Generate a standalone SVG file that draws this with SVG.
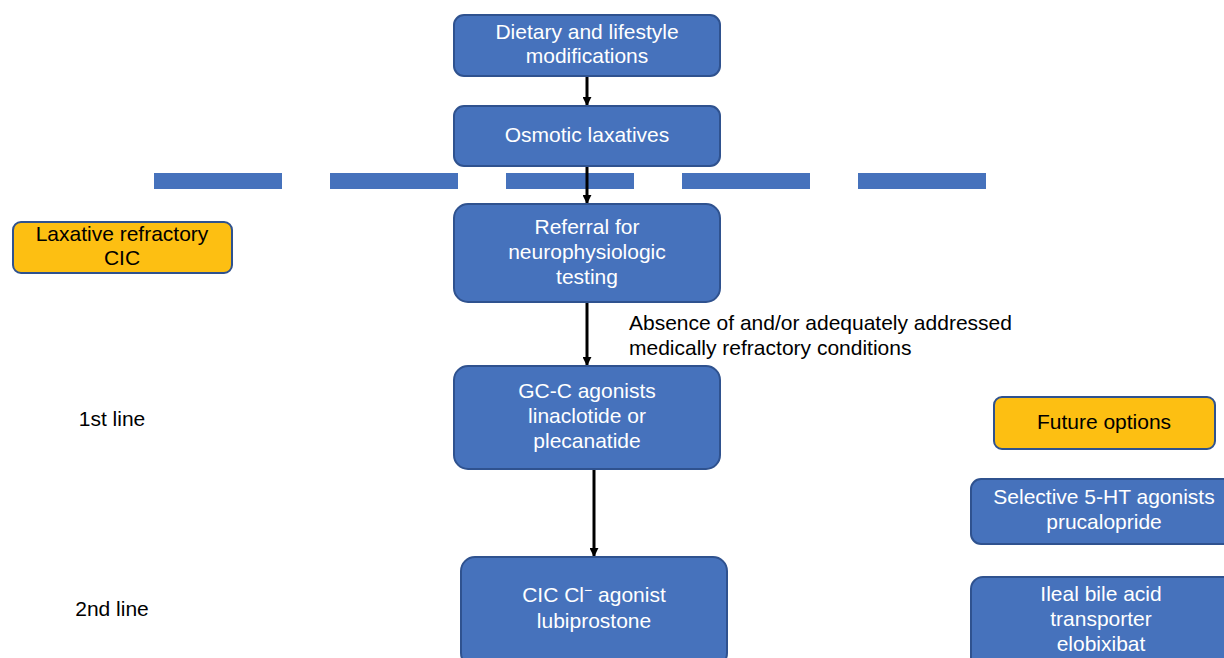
<svg xmlns="http://www.w3.org/2000/svg" width="1224" height="658" viewBox="0 0 1224 658">
<style>
.b{fill:#4672BC;stroke:#2F528F;stroke-width:2}
.y{fill:#FDBF12;stroke:#2F528F;stroke-width:2}
.t{font-family:"Liberation Sans",Arial,sans-serif;font-size:21px;text-anchor:middle}
.w{fill:#fff}
.k{fill:#000}
.c{stroke:#000;stroke-width:3;fill:none;marker-end:url(#a)}
</style>
<defs>
<marker id="a" viewBox="0 0 10 10" refX="9" refY="5" markerWidth="3" markerHeight="3" orient="auto" markerUnits="strokeWidth">
<path d="M0,0 L10,5 L0,10 z" fill="#000"/>
</marker>
</defs>
<g id="divider" fill="#4672BC">
<rect x="154" y="173" width="128" height="16"/>
<rect x="330" y="173" width="128" height="16"/>
<rect x="506" y="173" width="128" height="16"/>
<rect x="682" y="173" width="128" height="16"/>
<rect x="858" y="173" width="128" height="16"/>
</g>
<g id="connectors">
<line class="c" x1="587" y1="76" x2="587" y2="105"/>
<line class="c" x1="587" y1="166" x2="587" y2="203"/>
<line class="c" x1="587" y1="302" x2="587" y2="365"/>
<line class="c" x1="594" y1="469" x2="594" y2="556"/>
</g>
<g id="dietary"><rect class="b" x="454" y="15" width="266" height="61" rx="10"/>
<text class="t w" x="587" y="39">Dietary and lifestyle</text><text class="t w" x="587" y="63">modifications</text></g>
<g id="osmotic"><rect class="b" x="454" y="106" width="266" height="60" rx="10"/>
<text class="t w" x="587" y="142">Osmotic laxatives</text></g>
<g id="referral"><rect class="b" x="454" y="204" width="266" height="98" rx="14"/>
<text class="t w" x="587" y="234">Referral for</text><text class="t w" x="587" y="259">neurophysiologic</text><text class="t w" x="587" y="284">testing</text></g>
<g id="gcc"><rect class="b" x="454" y="366" width="266" height="103" rx="14"/>
<text class="t w" x="587" y="398">GC-C agonists</text><text class="t w" x="587" y="423">linaclotide or</text><text class="t w" x="587" y="448">plecanatide</text></g>
<g id="cic"><rect class="b" x="461" y="557" width="266" height="110" rx="14"/>
<text class="t w" x="594" y="602">CIC Cl<tspan font-size="14" dy="-7">−</tspan><tspan dy="7"> agonist</tspan></text><text class="t w" x="594" y="628">lubiprostone</text></g>
<g id="laxative"><rect class="y" x="13" y="222" width="219" height="51" rx="8"/>
<text class="t k" x="122" y="241">Laxative refractory</text><text class="t k" x="122" y="265">CIC</text></g>
<g id="future"><rect class="y" x="994" y="397" width="221" height="52" rx="8"/>
<text class="t k" x="1104" y="429">Future options</text></g>
<g id="selective"><rect class="b" x="971" y="479" width="266" height="65" rx="10"/>
<text class="t w" x="1104" y="504">Selective 5-HT agonists</text><text class="t w" x="1104" y="529">prucalopride</text></g>
<g id="ileal"><rect class="b" x="971" y="577" width="266" height="95" rx="12"/>
<text class="t w" x="1101" y="601">Ileal bile acid</text><text class="t w" x="1101" y="626">transporter</text><text class="t w" x="1101" y="651">elobixibat</text></g>
<g id="labels" font-family="Liberation Sans,Arial,sans-serif" font-size="21" fill="#000">
<text x="629" y="330">Absence of and/or adequately addressed</text>
<text x="629" y="355">medically refractory conditions</text>
<text x="112" y="426" text-anchor="middle">1st line</text>
<text x="112" y="616" text-anchor="middle">2nd line</text>
</g>
</svg>
